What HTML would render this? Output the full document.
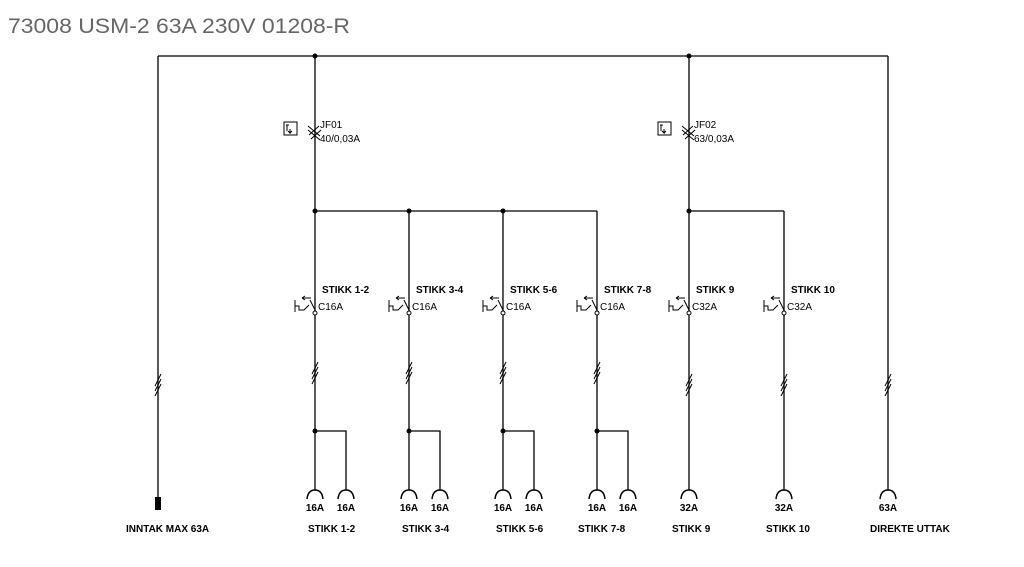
<!DOCTYPE html>
<html><head><style>body{margin:0;background:#fff}svg{display:block}</style></head><body>
<svg width="1024" height="567" xmlns="http://www.w3.org/2000/svg" font-family="Liberation Sans, sans-serif">
<text x="8" y="33" font-size="21" fill="#666" textLength="342" lengthAdjust="spacingAndGlyphs">73008 USM-2 63A 230V 01208-R</text>
<g stroke="#000" stroke-width="1.3" fill="none">
<path d="M158 56H888M158 56V498M888 56V490M315 56V490M689 56V490M315 211H597M689 211H784"/>
<path d="M409 211V490M503 211V490M597 211V490M784 211V490"/>
<path d="M315 431H346V490M409 431H440V490M503 431H534V490M597 431H628V490"/>
</g>
<g fill="#000">
<circle cx="315" cy="56" r="2.5"/><circle cx="689" cy="56" r="2.5"/>
<circle cx="315" cy="211" r="2.5"/><circle cx="409" cy="211" r="2.5"/><circle cx="503" cy="211" r="2.5"/><circle cx="689" cy="211" r="2.5"/>
<circle cx="315" cy="431" r="2.5"/><circle cx="409" cy="431" r="2.5"/><circle cx="503" cy="431" r="2.5"/><circle cx="597" cy="431" r="2.5"/>
<rect x="155" y="497" width="6" height="13"/>
</g>
<g stroke="#000" stroke-width="1" fill="none">
<rect x="284" y="122" width="13" height="13"/><rect x="658" y="122" width="13" height="13"/>
<path d="M308 126l12 10M308 130l12 10M309 135l10-9M311 139l10-9"/>
<path d="M682 126l12 10M682 130l12 10M683 135l10-9M685 139l10-9"/>
<path d="M287 125v6M286 125h3M290 129v4l-2-2M290 133l2-2"/>
<path d="M661 125v6M660 125h3M664 129v4l-2-2M664 133l2-2"/>
</g>
<g font-size="10">
<text x="320" y="128">JF01</text><text x="320" y="142">40/0,03A</text>
<text x="694" y="128">JF02</text><text x="694" y="142">63/0,03A</text>
</g>
<g stroke="#000" stroke-width="1" fill="none">
<g transform="translate(315 0)"><path d="M-20 300v12M-20 306h4v4h5l5-5M-5 300l5 10M-4 298h-9M-13 298l3-2M-13 298l3 2"/><circle cx="0" cy="313" r="2" fill="#fff"/></g>
<g transform="translate(409 0)"><path d="M-20 300v12M-20 306h4v4h5l5-5M-5 300l5 10M-4 298h-9M-13 298l3-2M-13 298l3 2"/><circle cx="0" cy="313" r="2" fill="#fff"/></g>
<g transform="translate(503 0)"><path d="M-20 300v12M-20 306h4v4h5l5-5M-5 300l5 10M-4 298h-9M-13 298l3-2M-13 298l3 2"/><circle cx="0" cy="313" r="2" fill="#fff"/></g>
<g transform="translate(597 0)"><path d="M-20 300v12M-20 306h4v4h5l5-5M-5 300l5 10M-4 298h-9M-13 298l3-2M-13 298l3 2"/><circle cx="0" cy="313" r="2" fill="#fff"/></g>
<g transform="translate(689 0)"><path d="M-20 300v12M-20 306h4v4h5l5-5M-5 300l5 10M-4 298h-9M-13 298l3-2M-13 298l3 2"/><circle cx="0" cy="313" r="2" fill="#fff"/></g>
<g transform="translate(784 0)"><path d="M-20 300v12M-20 306h4v4h5l5-5M-5 300l5 10M-4 298h-9M-13 298l3-2M-13 298l3 2"/><circle cx="0" cy="313" r="2" fill="#fff"/></g>
<path d="M155 386l6-12M155 391l6-12M155 396l6-12"/>
<path d="M312 374l6-12M312 379l6-12M312 384l6-12"/>
<path d="M406 374l6-12M406 379l6-12M406 384l6-12"/>
<path d="M500 374l6-12M500 379l6-12M500 384l6-12"/>
<path d="M594 374l6-12M594 379l6-12M594 384l6-12"/>
<path d="M686 386l6-12M686 391l6-12M686 396l6-12"/>
<path d="M781 386l6-12M781 391l6-12M781 396l6-12"/>
<path d="M885 386l6-12M885 391l6-12M885 396l6-12"/>
</g>
<g stroke="#000" stroke-width="1.5" fill="none">
<path d="M307 499Q308 490 315 490Q322 490 323 499"/>
<path d="M338 499Q339 490 346 490Q353 490 354 499"/>
<path d="M401 499Q402 490 409 490Q416 490 417 499"/>
<path d="M432 499Q433 490 440 490Q447 490 448 499"/>
<path d="M495 499Q496 490 503 490Q510 490 511 499"/>
<path d="M526 499Q527 490 534 490Q541 490 542 499"/>
<path d="M589 499Q590 490 597 490Q604 490 605 499"/>
<path d="M620 499Q621 490 628 490Q635 490 636 499"/>
<path d="M681 499Q682 490 689 490Q696 490 697 499"/>
<path d="M776 499Q777 490 784 490Q791 490 792 499"/>
<path d="M880 499Q881 490 888 490Q895 490 896 499"/>
</g>
<g font-size="10">
<text x="318" y="310">C16A</text><text x="412" y="310">C16A</text><text x="506" y="310">C16A</text><text x="600" y="310">C16A</text><text x="692" y="310">C32A</text><text x="787" y="310">C32A</text>
</g>
<g font-size="10" font-weight="bold" text-anchor="middle">
<text x="315" y="511">16A</text><text x="346" y="511">16A</text><text x="409" y="511">16A</text><text x="440" y="511">16A</text><text x="503" y="511">16A</text><text x="534" y="511">16A</text><text x="597" y="511">16A</text><text x="628" y="511">16A</text><text x="689" y="511">32A</text><text x="784" y="511">32A</text><text x="888" y="511">63A</text>
</g>
<g font-size="10" font-weight="bold">
<text x="322" y="293">STIKK 1-2</text><text x="416" y="293">STIKK 3-4</text><text x="510" y="293">STIKK 5-6</text><text x="604" y="293">STIKK 7-8</text><text x="696" y="293">STIKK 9</text><text x="791" y="293">STIKK 10</text>
<text x="126" y="532">INNTAK MAX 63A</text><text x="308" y="532">STIKK 1-2</text><text x="402" y="532">STIKK 3-4</text><text x="496" y="532">STIKK 5-6</text><text x="578" y="532">STIKK 7-8</text><text x="672" y="532">STIKK 9</text><text x="766" y="532">STIKK 10</text><text x="870" y="532">DIREKTE UTTAK</text>
</g>
</svg>
</body></html>
